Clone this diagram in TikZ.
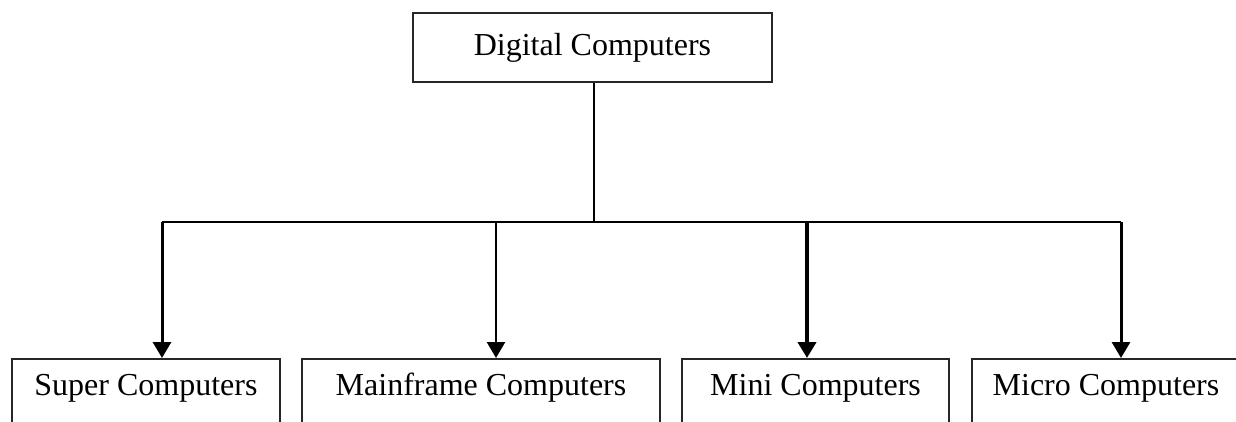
\documentclass[tikz,border=0pt]{standalone}
\usepackage{fontspec}
\setmainfont{Liberation Serif}
\usetikzlibrary{arrows.meta}
\begin{document}
\begin{tikzpicture}[x=1pt,y=-1pt,
  box/.style={draw=black!85,line width=1.8pt,rectangle,inner sep=0pt,
    font=\fontsize{32}{38}\selectfont,text height=37pt,text depth=70pt},
  topbox/.style={draw=black!85,line width=1.8pt,rectangle,inner sep=0pt,
    font=\fontsize{32}{38}\selectfont,minimum width=359pt,minimum height=69pt},
  link/.style={line width=1.8pt},
  arr/.style={line width=3pt,-{Triangle[width=18pt,length=16pt]}}]
\useasboundingbox (0,0) rectangle (1236,421);
\node[topbox] (dc) at (592.5,47.5) {Digital Computers};
\node[box,anchor=north,minimum width=268pt] (sc) at (146,358) {Super Computers};
\node[box,anchor=north,minimum width=358pt] (mf) at (481,358) {Mainframe Computers};
\node[box,anchor=north,minimum width=267pt] (mi) at (815.5,358) {Mini Computers};
\node[box,anchor=north,minimum width=268pt] (mc) at (1106,358) {Micro Computers};
\coordinate (j) at (594,222);
\coordinate (a1) at (162,222);
\coordinate (a2) at (496,222);
\coordinate (a3) at (807,222);
\coordinate (a4) at (1121,222);
\draw[link] (dc.south -| j) -- (j);
\draw[link] (a1) -- (a4);
\draw[arr] (a1) -- (a1 |- sc.north);
\draw[arr,line width=2.6pt] (a2) -- (a2 |- mf.north);
\draw[arr,line width=4.5pt] (a3) -- (a3 |- mi.north);
\draw[arr] (a4) -- (a4 |- mc.north);
\end{tikzpicture}
\end{document}
